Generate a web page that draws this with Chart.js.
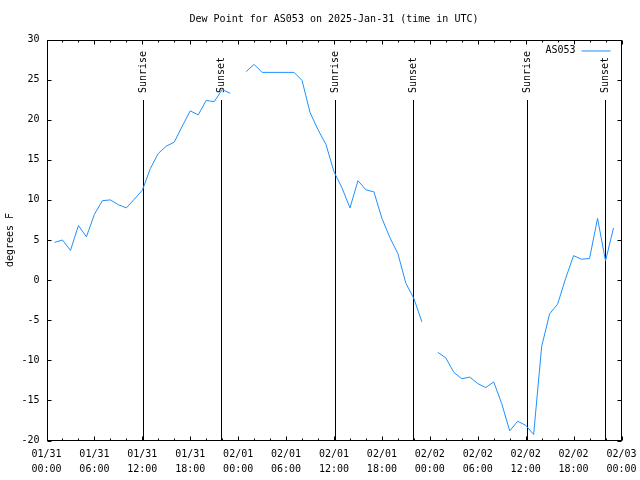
<!DOCTYPE html>
<html><head><meta charset="utf-8">
<script src="https://cdn.jsdelivr.net/npm/chart.js@4.4.1/dist/chart.umd.min.js"></script>
<style>html,body{margin:0;padding:0;background:#fff}</style>
</head><body>
<canvas id="c" width="640" height="480"></canvas>
<script>
const seriesName = 'AS053';
const chartTitle = 'Dew Point for AS053 on 2025-Jan-31 (time in UTC)';
const yAxisTitle = 'degrees F';
const hours = [1,2,3,4,5,6,7,8,9,10,11,12,13,14,15,16,17,18,19,20,21,22,23,24,25,26,27,28,29,30,31,32,33,34,35,36,37,38,39,40,41,42,43,44,45,46,47,48,49,50,51,52,53,54,55,56,57,58,59,60,61,62,63,64,65,66,67,68,69,70,71];
const dewPoint = [4.7,5.0,3.7,6.8,5.4,8.2,9.9,10.0,9.4,9.0,10.1,11.2,13.9,15.8,16.7,17.2,19.2,21.1,20.6,22.4,22.25,23.75,23.3,null,
  26.0,26.9,25.9,25.9,25.9,25.9,25.9,24.9,20.9,18.75,16.9,13.5,11.5,9.0,12.4,11.25,11.0,7.7,5.3,3.3,-0.4,-2.3,-5.2,null,
  -9.0,-9.7,-11.5,-12.3,-12.1,-12.9,-13.4,-12.7,-15.4,-18.8,-17.6,-18.1,-19.25,-8.3,-4.2,-3.0,0.2,3.05,2.6,2.7,7.7,2.4,6.5];
const xTickDates = ['01/31','01/31','01/31','01/31','02/01','02/01','02/01','02/01','02/02','02/02','02/02','02/02','02/03'];
const xTickTimes = ['00:00','06:00','12:00','18:00','00:00','06:00','12:00','18:00','00:00','06:00','12:00','18:00','00:00'];
const sunHours = [12.12, 21.9, 36.12, 45.9, 60.12, 69.9];
const sunLabels = ['Sunrise','Sunset','Sunrise','Sunset','Sunrise','Sunset'];
const lineColor = '#1e90ff';
const FONT = '"DejaVu Sans Mono", "Liberation Mono", monospace';

Chart.defaults.font.family = FONT;
Chart.defaults.font.size = 10;
Chart.defaults.color = '#000';

const points = hours.map((h,i)=>({x:h, y:dewPoint[i]}));

const frame = {
  id: 'frame',
  beforeDatasetsDraw(chart){
    const {ctx, chartArea:a, scales:{x}} = chart;
    ctx.save();
    // title centred over the plot area
    ctx.font = '10px ' + FONT; ctx.fillStyle = '#000';
    ctx.textAlign = 'center'; ctx.textBaseline = 'middle';
    ctx.fillText(chartTitle, (a.left + a.right) / 2, 19);
    ctx.strokeStyle = '#000'; ctx.lineWidth = 1;
    const yTop = a.bottom - 0.85*(a.bottom - a.top);
    sunHours.forEach((h,i)=>{
      const px = Math.round(x.getPixelForValue(h)) + 0.5;
      ctx.beginPath(); ctx.moveTo(px, a.bottom); ctx.lineTo(px, Math.round(yTop)); ctx.stroke();
      ctx.save();
      ctx.translate(px, Math.round(yTop) - 7);
      ctx.rotate(-Math.PI/2);
      ctx.textAlign = 'left'; ctx.textBaseline = 'middle';
      ctx.font = '10px ' + FONT; ctx.fillStyle = '#000';
      ctx.fillText(sunLabels[i], 0, 0);
      ctx.restore();
    });
    ctx.restore();
  },
  afterDatasetsDraw(chart){
    const {ctx, chartArea:a, scales:{x,y}} = chart;
    ctx.save();
    ctx.strokeStyle = '#000'; ctx.lineWidth = 1;
    const L = Math.round(a.left)+0.5, R = Math.round(a.right)-0.5, T = Math.round(a.top)+0.5, B = Math.round(a.bottom)-0.5;
    ctx.strokeRect(L, T, R-L, B-T);
    ctx.beginPath();
    for (let h = x.min; h <= x.max; h += 2) {
      const px = Math.round(x.getPixelForValue(h)) + 0.5;
      const len = (h % 6 === 0) ? 4 : 2;
      ctx.moveTo(px, B); ctx.lineTo(px, B - len);
      ctx.moveTo(px, T); ctx.lineTo(px, T + len);
    }
    y.ticks.forEach(t=>{
      const py = Math.round(y.getPixelForValue(t.value)) + 0.5;
      ctx.moveTo(L, py); ctx.lineTo(L + 4, py);
      ctx.moveTo(R, py); ctx.lineTo(R - 4, py);
    });
    ctx.stroke();
    // legend
    const ly = T + 10;
    ctx.font = '10px ' + FONT; ctx.fillStyle = '#000';
    ctx.textAlign = 'right'; ctx.textBaseline = 'middle';
    ctx.fillText(seriesName, R - 46, ly);
    ctx.strokeStyle = lineColor;
    ctx.beginPath(); ctx.moveTo(R - 40, ly + 0.5); ctx.lineTo(R - 11, ly + 0.5); ctx.stroke();
    ctx.restore();
  }
};

new Chart(document.getElementById('c'), {
  type: 'line',
  data: { datasets: [{ label: seriesName, data: points, borderColor: lineColor, borderWidth: 1, pointRadius: 0, tension: 0, spanGaps: false, fill: false }] },
  options: {
    responsive: false, animation: false,
    layout: { padding: { left: 0, right: 18.5, top: 39.5, bottom: 0 } },
    plugins: {
      legend: { display: false },
      tooltip: { enabled: false },
      title: { display: false }
    },
    scales: {
      x: {
        type: 'linear', min: 0, max: 72,
        afterFit(s){ s.height = 39.5; s.paddingLeft = 0; s.paddingRight = 0; },
        grid: { display: false, drawTicks: false }, border: { display: false },
        ticks: { stepSize: 6, autoSkip: false, maxRotation: 0, minRotation: 0, padding: 6, color: '#000', font: { size: 10, lineHeight: 1.5 },
          callback(v){ const i = Math.round(v/6); return [xTickDates[i], xTickTimes[i]]; } }
      },
      y: {
        min: -20, max: 30,
        afterFit(s){ s.width = 46.5; s.paddingTop = 0; s.paddingBottom = 0; },
        grid: { display: false, drawTicks: false }, border: { display: false },
        ticks: { stepSize: 5, padding: 7, color: '#000', font: { size: 10 } },
        title: { display: true, text: yAxisTitle, color: '#000', font: { size: 10, lineHeight: 1.2 }, padding: { top: 4, bottom: 0 } }
      }
    }
  },
  plugins: [frame]
});
</script>
</body></html>
